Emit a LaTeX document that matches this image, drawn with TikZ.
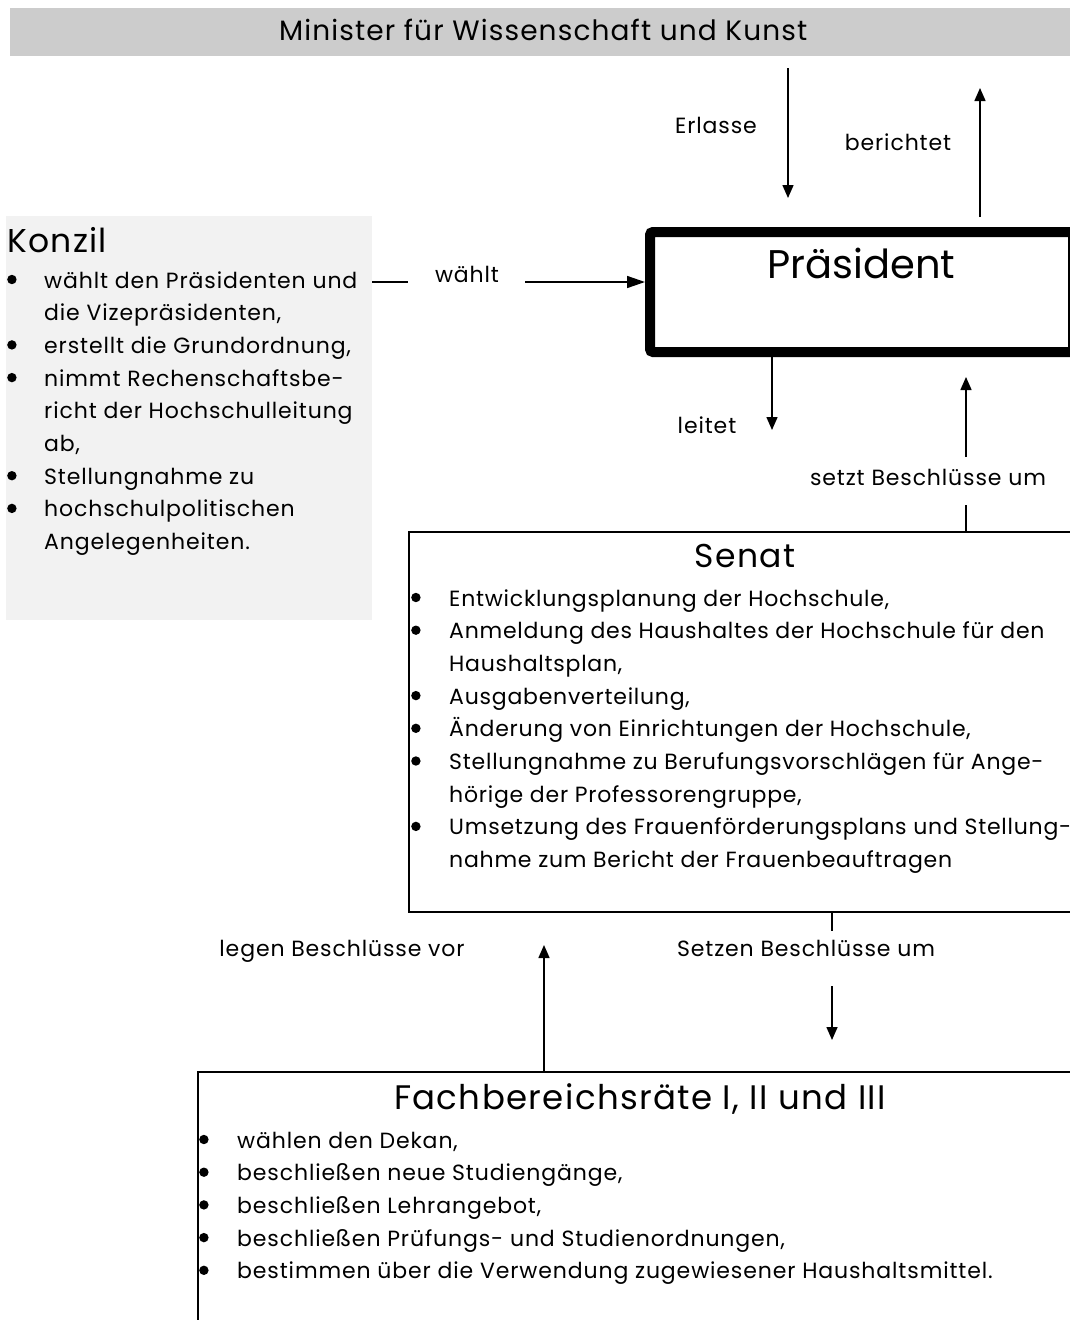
\documentclass[tikz,border=0pt]{standalone}
\usepackage{fontspec}
\setmainfont{Poppins}[LetterSpace=4]
\newcommand{\puce}{\tikz[baseline=-8.5pt]\fill (0,0) circle (4.7pt);}
\usetikzlibrary{arrows.meta}
\begin{document}
\begin{tikzpicture}[x=1pt,y=-1pt]
\tikzset{texte/.style={font=\fontsize{22}{32.7}\selectfont, inner sep=0pt},
titre/.style={font=\fontsize{33}{38}\selectfont, inner sep=0pt},
cadre/.style={draw, line width=2pt, anchor=north west, inner sep=0pt},
fleche/.style={line width=1.5pt, -{Triangle[length=13pt,width=11pt]}},
trait/.style={line width=1.5pt}}
\useasboundingbox (0,0) rectangle (1070,1320);
\clip (0,0) rectangle (1070,1320);
\fill[white] (0,0) rectangle (1070,1320);
\node[fill=black!20, minimum width=1066pt, minimum height=48pt, anchor=north west, inner sep=0pt, text depth=4pt, font=\fontsize{28}{32}\selectfont] (Min) at (10,8) {Minister für Wissenschaft und Kunst};
\node[draw, line width=10pt, rounded corners=3pt, minimum width=423pt, inner xsep=0pt, inner ysep=16pt, text height=30pt, text depth=58pt, anchor=north, font=\fontsize{40}{48}\selectfont\addfontfeature{LetterSpace=0}] (Praes) at (861.5,227) {Präsident};
\node[fill=black!5, minimum width=366pt, minimum height=404pt, anchor=north west, inner sep=0pt] (Konzil) at (6,216) {};
\node[titre, anchor=base west] (KonzilT) at (7,252) {Konzil};
\node[texte, anchor=base west] (KonzilL) at (7,288) {\begin{tabular}[t]{@{}p{37pt}@{}l@{}}
\puce & wählt den Präsidenten und\\
 & die Vizepräsidenten,\\
\puce & erstellt die Grundordnung,\\
\puce & nimmt Rechenschaftsbe-\\
 & richt der Hochschulleitung\\
 & ab,\\
\puce & Stellungnahme zu\\
\puce & hochschulpolitischen\\
 & Angelegenheiten.
\end{tabular}};
\node[cadre, minimum width=672pt, minimum height=380pt] (Senat) at (408,531) {};
\node[titre, anchor=base] (SenatT) at (745,567) {Senat};
\node[texte, anchor=base west] (SenatL) at (411,606) {\addfontfeature{LetterSpace=3.5}\begin{tabular}[t]{@{}p{38pt}@{}l@{}}
\puce & Entwicklungsplanung der Hochschule,\\
\puce & Anmeldung des Haushaltes der Hochschule für den\\
 & Haushaltsplan,\\
\puce & Ausgabenverteilung,\\
\puce & Änderung von Einrichtungen der Hochschule,\\
\puce & Stellungnahme zu Berufungsvorschlägen für Ange-\\
 & hörige der Professorengruppe,\\
\puce & Umsetzung des Frauenförderungsplans und Stellung-\\
 & nahme zum Bericht der Frauenbeauftragen
\end{tabular}};
\node[cadre, minimum width=884pt, minimum height=300pt] (FB) at (197,1071) {};
\node[titre, anchor=base, font=\fontsize{34}{38}\selectfont] (FBT) at (640,1109) {Fachbereichsräte I, II und III};
\node[texte, anchor=base west] (FBL) at (199,1148) {\begin{tabular}[t]{@{}p{38pt}@{}l@{}}
\puce & wählen den Dekan,\\
\puce & beschließen neue Studiengänge,\\
\puce & beschließen Lehrangebot,\\
\puce & beschließen Prüfungs- und Studienordnungen,\\
\puce & bestimmen über die Verwendung zugewiesener Haushaltsmittel.
\end{tabular}};
\node[texte, anchor=base] (Erl) at (716,133) {Erlasse};
\node[texte, anchor=base] (Ber) at (898,150) {berichtet};
\node[texte, anchor=base] (Waehlt) at (467,282) {wählt};
\node[texte, anchor=base] (Leitet) at (707,433) {leitet};
\node[texte, anchor=base] (Setzt) at (928,485) {setzt Beschlüsse um};
\node[texte, anchor=base] (Setzen) at (806,956) {Setzen Beschlüsse um};
\node[texte, anchor=base] (Legen) at (342,956) {legen Beschlüsse vor};
\coordinate (E1) at (788,68);
\coordinate (E2) at (788,198);
\coordinate (B1) at (980,217);
\coordinate (B2) at (980,88);
\coordinate (Lt) at (772,430);
\coordinate (S1) at (966,505);
\coordinate (S2) at (966,457);
\coordinate (S3) at (966,377);
\coordinate (U1) at (832,931);
\coordinate (U2) at (832,986);
\coordinate (U3) at (832,1040);
\coordinate (V1) at (544,945);
\draw[fleche] (E1) -- (E2);
\draw[fleche] (B1) -- (B2);
\draw[trait] (Konzil.east |- Waehlt.base) -- (408,282);
\draw[line width=1.5pt, -{Triangle[length=18pt,width=12pt]}] (525,282) -- (Praes.west |- Waehlt.base);
\draw[fleche] (Praes.south -| Lt) -- (Lt);
\draw[trait] (Senat.north -| S1) -- (S1);
\draw[fleche] (S2) -- (S3);
\draw[trait] (Senat.south -| U1) -- (U1);
\draw[fleche] (U2) -- (U3);
\draw[fleche] (FB.north -| V1) -- (V1);
\end{tikzpicture}
\end{document}
